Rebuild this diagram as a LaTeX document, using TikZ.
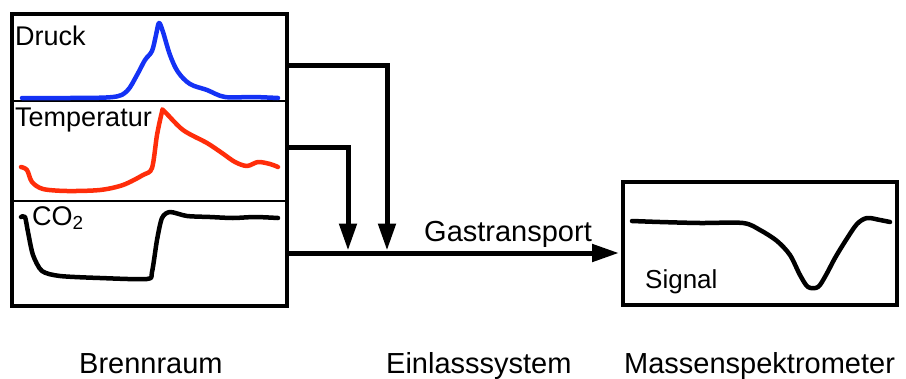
\documentclass[tikz,border=0pt]{standalone}
\usepackage{fontspec}
\setmainfont{Liberation Sans}
\usetikzlibrary{arrows.meta}
\definecolor{druckblue}{RGB}{20,50,245}
\definecolor{tempred}{RGB}{255,45,10}
\begin{document}
\begin{tikzpicture}[x=1pt,y=-1pt,
  lbl/.style={inner sep=0pt, anchor=base west, font=\fontsize{27}{31}\selectfont},
  siglbl/.style={inner sep=0pt, anchor=base west, font=\fontsize{26}{30}\selectfont},
  big/.style={inner sep=0pt, anchor=base west, font=\fontsize{29}{33}\selectfont},
  frame/.style={draw, line width=4pt, inner sep=0pt},
  divider/.style={line width=2pt},
  conn/.style={line width=5pt},
  arr/.style={conn, -{Triangle[length=27pt,width=17pt]}},
  curve/.style={line width=4.5pt, line join=round, line cap=round}]
\useasboundingbox (0,0) rectangle (906,378);

% boxes
\node[frame, minimum width=275pt, minimum height=292pt] (brenn) at (149.5,160) {};
\node[frame, minimum width=274pt, minimum height=123pt] (ms) at (760,243.5) {};

% dividers
\draw[divider] (brenn.west |- 0,101) -- (brenn.east |- 0,101);
\draw[divider] (brenn.west |- 0,201) -- (brenn.east |- 0,201);

% inner labels
\node[lbl] (ldruck) at (15,45) {Druck};
\node[lbl] (ltemp) at (15,126) {Temperatur};
\node[lbl] (lco) at (32,225) {CO\textsubscript{2}};
\node[siglbl] (lsig) at (645,288) {Signal};

% curves
\draw[curve, druckblue] plot[smooth, tension=0.55] coordinates {
 (22,98) (70,98) (113,97) (127,91) (137,75) (145,60) (152,51) (156,35) (159,23)
 (163,32) (170,55) (178,72) (190,84) (207,90) (225,97) (253,97) (278,98)};
\draw[curve, tempred] plot[smooth, tension=0.5] coordinates {
 (21,167) (27,170) (32,182) (43,189) (67,191) (100,190) (123,185) (143,175)
 (152,168) (157,135) (162,112) (164,111) (183,130) (207,143) (222,153) (235,162)
 (247,166) (258,162) (270,164) (278,167)};
\draw[curve, black] plot[smooth, tension=0.45] coordinates {
 (21,217) (25,217) (28,232) (33,255) (42,271) (60,276) (100,278) (147,279)
 (152,272) (157,240) (162,218) (170,212) (187,216) (210,217) (233,218) (255,217) (278,218)};
\draw[curve, black] plot[smooth, tension=0.5] coordinates {
 (632,221) (660,222) (700,223) (743,223) (760,230) (777,241) (790,255) (800,275)
 (808,287) (818,287) (826,275) (835,258) (846,240) (857,224) (867,218) (880,220) (890,222)};

% connectors
\coordinate (j1) at (387,250.5);
\coordinate (j2) at (348,250.5);
\draw[arr] (brenn.east |- 0,65) -| (j1);
\draw[arr] (brenn.east |- 0,147) -| (j2);
\draw[arr, shorten >=2pt] (brenn.east |- 0,253) -- (ms.west |- 0,253);
\node[big] (lgas) at (424,241) {Gastransport};

% bottom labels
\node[big] (lbrenn) at (79,373) {Brennraum};
\node[big] (lein) at (386,373) {Einlasssystem};
\node[big] (lms) at (624,373) {Massenspektrometer};
\end{tikzpicture}
\end{document}
